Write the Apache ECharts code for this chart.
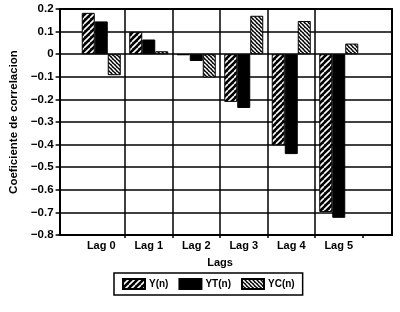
<!DOCTYPE html>
<html><head><meta charset="utf-8">
<script src="https://cdn.jsdelivr.net/npm/echarts@6/dist/echarts.min.js"></script>
<style>html,body{margin:0;padding:0;background:#fff}#c{width:400px;height:312px}</style>
</head><body><div id="c"></div>
<script>
const categories = ['Lag 0','Lag 1','Lag 2','Lag 3','Lag 4','Lag 5'];
const seriesNames = ['Y(n)','YT(n)','YC(n)'];
const yValues  = [0.183, 0.099, -0.004, -0.211, -0.403, -0.698];
const ytValues = [0.145, 0.065, -0.030, -0.238, -0.442, -0.724];
const ycValues = [-0.093, 0.013, -0.103, 0.170, 0.147, 0.047];
const yTicks = { min: -0.8, max: 0.2, interval: 0.1 };

function stripe(dir, size, lw) {
  const c = document.createElement('canvas');
  c.width = size; c.height = size;
  const g = c.getContext('2d');
  g.fillStyle = '#000'; g.fillRect(0,0,size,size);
  g.strokeStyle = '#fff'; g.lineWidth = lw;
  g.beginPath();
  for (let k = -1; k <= 1; k++) {
    if (dir > 0) { g.moveTo(k*size, size); g.lineTo(k*size+size, 0); }
    else { g.moveTo(k*size, 0); g.lineTo(k*size+size, size); }
  }
  g.stroke();
  return { image: c, repeat: 'repeat' };
}
const patY = stripe(1, 6, 1.6);
const patYC = stripe(-1, 4, 1.5);

const font = 'Liberation Sans';
const chart = echarts.init(document.getElementById('c'), null, {renderer:'canvas'});
const fmt = v => { const r = Math.round(v*10)/10; return (r === 0 ? '0' : String(r)).replace('-', '\u2212'); };
chart.setOption({
  animation: false,
  backgroundColor: '#fff',
  grid: [
    { left: 50, right: 8, top: 9, bottom: 77, show: false },
    { left: 77.5, right: 37.5, top: 9, bottom: 77, show: false }
  ],
  xAxis: [
    { gridIndex: 0, type: 'category', data: categories, position: 'bottom',
      axisLine: { onZero: false, lineStyle: { color: '#000', width: 2 } },
      axisTick: { show: false }, axisLabel: { show: false }, splitLine: { show: false } },
    { gridIndex: 0, type: 'category', data: categories, position: 'top',
      axisLine: { onZero: false, lineStyle: { color: '#000', width: 2 } },
      axisTick: { show: false }, axisLabel: { show: false }, splitLine: { show: false } },
    { gridIndex: 1, type: 'category', data: categories, position: 'bottom',
      name: 'Lags', nameLocation: 'middle', nameGap: 22,
      nameTextStyle: { fontFamily: font, fontWeight: 'bold', fontSize: 11, color: '#000' },
      axisLine: { show: false, onZero: false },
      axisTick: { show: true, length: 3, interval: (i) => i !== 0, lineStyle: { color: '#000', width: 1.5 } },
      axisLabel: { fontFamily: font, fontWeight: 'bold', fontSize: 11, color: '#000', margin: 5 },
      splitLine: { show: true, showMinLine: false, showMaxLine: false, lineStyle: { color: '#000', width: 1.5 } } }
  ],
  yAxis: [
    { gridIndex: 0, type: 'value', min: yTicks.min, max: yTicks.max, interval: yTicks.interval,
      name: 'Coeficiente de correlacion', nameLocation: 'middle', nameGap: 37,
      nameTextStyle: { fontFamily: font, fontWeight: 'bold', fontSize: 11.5, color: '#000' },
      axisLine: { show: true, onZero: false, lineStyle: { color: '#000', width: 2 } },
      axisTick: { show: true, length: 4, lineStyle: { color: '#000', width: 1.5 } },
      axisLabel: { fontFamily: font, fontWeight: 'bold', fontSize: 11.5, color: '#000', margin: 6, formatter: fmt },
      splitLine: { show: true, lineStyle: { color: '#000', width: 1.5 } } },
    { gridIndex: 0, type: 'value', position: 'right', min: yTicks.min, max: yTicks.max, interval: yTicks.interval,
      axisLine: { show: true, onZero: false, lineStyle: { color: '#000', width: 2 } },
      axisTick: { show: false }, axisLabel: { show: false }, splitLine: { show: false } },
    { gridIndex: 1, type: 'value', min: yTicks.min, max: yTicks.max, interval: yTicks.interval, show: false }
  ],
  legend: {
    left: 114, top: 273, orient: 'horizontal',
    borderColor: '#000', borderWidth: 1.5, padding: [5, 8], itemGap: 10,
    itemWidth: 22, itemHeight: 10,
    textStyle: { fontFamily: font, fontWeight: 'bold', fontSize: 10, color: '#000', padding: [0,0,0,-1] },
    data: seriesNames.map(n => ({ name: n, icon: 'rect' }))
  },
  series: [
    { name: seriesNames[0], type: 'bar', xAxisIndex: 2, yAxisIndex: 2, data: yValues,
      barWidth: 13, barGap: '0%', itemStyle: { color: patY, borderColor: '#000', borderWidth: 1 } },
    { name: seriesNames[1], type: 'bar', xAxisIndex: 2, yAxisIndex: 2, data: ytValues,
      barWidth: 13, barGap: '0%', itemStyle: { color: '#000', borderColor: '#000', borderWidth: 1 } },
    { name: seriesNames[2], type: 'bar', xAxisIndex: 2, yAxisIndex: 2, data: ycValues,
      barWidth: 13, barGap: '0%', itemStyle: { color: patYC, borderColor: '#000', borderWidth: 1 } }
  ]
});
</script></body></html>
